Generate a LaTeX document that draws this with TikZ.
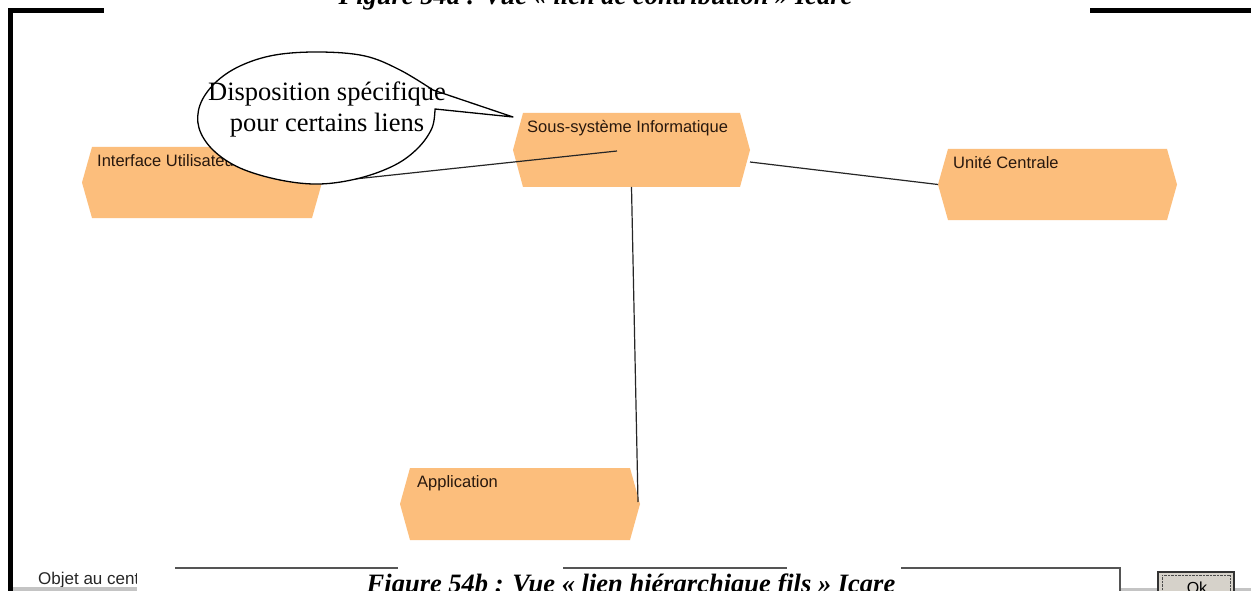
\documentclass[tikz,border=0pt]{standalone}
\usepackage{fontspec}
\setmainfont{Liberation Serif}
\newfontfamily\uifont{Liberation Sans}
\definecolor{boxfill}{RGB}{252,190,124}
\definecolor{boxtext}{RGB}{40,24,14}
\definecolor{fieldgray}{RGB}{85,85,85}
\definecolor{wingray}{RGB}{196,196,196}
\definecolor{btnface}{RGB}{214,210,202}
\begin{document}
\begin{tikzpicture}[x=1pt,y=-1pt,
  hexnode/.style={rectangle, inner sep=0pt, outer sep=0pt},
  lbl/.style={font=\uifont\fontsize{16.5}{19}\selectfont, text=boxtext, inner sep=0pt, anchor=base west},
  link/.style={draw=black!85, line width=1.2pt},
  caption/.style={font=\fontsize{26.5}{31}\selectfont\bfseries\itshape, inner sep=0pt, anchor=base},
  note/.style={font=\fontsize{26.5}{31}\selectfont, align=center, inner sep=0pt},
  frame/.style={fill=black},
  field/.style={draw=fieldgray, line width=2.5pt},
  uitext/.style={font=\uifont\fontsize{17}{20}\selectfont, text=black!85, inner sep=0pt, anchor=base west}
]
\useasboundingbox (0,0) rectangle (1251,591);
\clip (0,0) rectangle (1251,591);
\fill[white] (0,0) rectangle (1251,591);

% box frames (invisible named nodes)
\node[hexnode, minimum width=240pt, minimum height=71pt] (iface) at (202,182.5) {};
\node[hexnode, minimum width=237pt, minimum height=74pt] (soussys) at (631.5,150) {};
\node[hexnode, minimum width=239pt, minimum height=71pt] (unite) at (1057.5,184.5) {};
\node[hexnode, minimum width=240pt, minimum height=72pt] (appli) at (520,504) {};

\foreach \n in {iface,soussys,unite,appli}{
  \fill[boxfill] ([xshift=10pt]\n.north west) -- ([xshift=-10pt]\n.north east) -- (\n.east)
     -- ([xshift=-10pt]\n.south east) -- ([xshift=10pt]\n.south west) -- (\n.west) -- cycle;
}

\node[lbl] (iface-l) at (97,167) {Interface Utilisateur};
\node[lbl] (soussys-l) at (527,133) {Sous-système Informatique};
\node[lbl] (unite-l) at (953,168) {Unité Centrale};
\node[lbl] (appli-l) at (417,487) {Application};

% connectors
\coordinate (cross) at (617,151);
\draw[link] (iface.east) -- (cross);
\draw[link] ([yshift=-12pt]soussys.east) -- (unite.west);
\draw[link] (soussys.south) -- ([xshift=-2pt,yshift=2pt]appli.east);

% callout balloon
\draw[line width=1.3pt, fill=white, line join=round]
  (433,90) -- (513,117) -- (435,109)
  -- plot[smooth, tension=0.6] coordinates {(435,109) (432,128) (418,148) (395,165) (360,178) (320,184)
     (280,180) (240,168) (213,150) (199,128) (200,105) (215,83) (240,66) (275,55) (320,52)
     (365,56) (400,70) (433,90)} -- cycle;
\node[note] (note) at (327,109) {Disposition spécifique\\pour certains liens};

% black frame
\fill[frame] (8,8) rectangle (104,13);
\fill[frame] (8,8) rectangle (13,591);
\fill[frame] (1090,8) rectangle (1251,13);

% bottom window strip
\draw[field] (175,568) -- (398,568);
\draw[field] (563,568) -- (787,568);
\draw[field] (901,568) -- (1120,568) -- (1120,591);
\node[uitext] (objet) at (38,584) {Objet au centre};
\fill[wingray] (13,587) rectangle (137,591);
\fill[wingray] (1121,588) rectangle (1251,591);
\node[draw=black!80, line width=1.5pt, fill=btnface, minimum width=76pt, minimum height=26pt, inner sep=0pt] (ok) at (1196,585) {};
\draw[densely dotted, black!70] ([shift={(5pt,-4pt)}]ok.north west) rectangle ([shift={(-5pt,4pt)}]ok.south east);
\node[font=\uifont\fontsize{16}{18}\selectfont, inner sep=0pt, anchor=base] (oktext) at (1197,593) {Ok};

% captions
\fill[white] (137,572) rectangle (1119,591);
\node[caption] (cap-a) at (595.5,4.5) {Figure 54a : Vue « lien de contribution » Icare};
\node[caption] (cap-b) at (631,592) {Figure 54b : Vue « lien hiérarchique fils » Icare};
\end{tikzpicture}
\end{document}
